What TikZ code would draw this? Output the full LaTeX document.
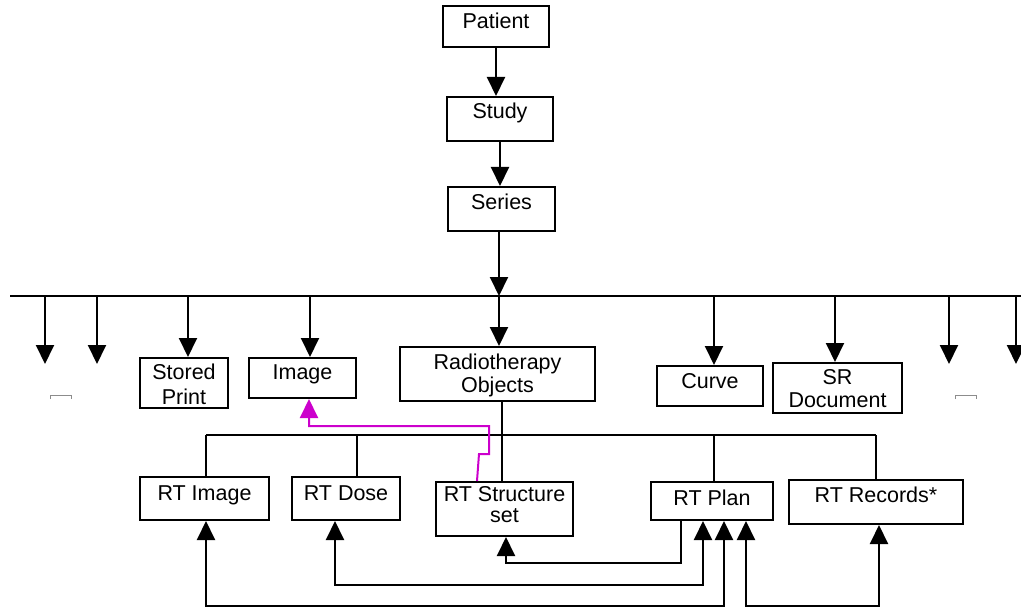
\documentclass[tikz,border=0pt]{standalone}
\usepackage{fontspec}
\setmainfont{Liberation Sans}
\usetikzlibrary{arrows.meta}
\definecolor{linkmag}{RGB}{204,0,204}
\begin{document}
\begin{tikzpicture}[x=1pt,y=-1pt,
  line width=2pt,
  box/.style={draw, line width=2pt, rectangle, inner sep=0pt},
  txt/.style={anchor=north, inner sep=0pt, align=center,
    font=\fontsize{21.5}{23}\selectfont},
  tip/.style={-{Triangle[length=19pt,width=18pt]}},
  tips/.style={{Triangle[length=19pt,width=18pt]}-{Triangle[length=19pt,width=18pt]}},
  mag/.style={draw=linkmag, line width=2pt, -{Triangle[length=19pt,width=18pt,fill=linkmag]}},
  stub/.style={draw=black!45, line width=1pt}
]
\useasboundingbox (0,0) rectangle (1021,607);

% hierarchy at the top
\node[box, minimum width=106, minimum height=41, label={[txt,yshift=-7]north:Patient}] (patient) at (496,26.5) {};
\node[box, minimum width=106, minimum height=44, label={[txt,yshift=-6]north:Study}] (study) at (500,119) {};
\node[box, minimum width=107, minimum height=44, label={[txt,yshift=-7]north:Series}] (series) at (501.5,209) {};

% object boxes below the series bus
\node[box, minimum width=88, minimum height=50, label={[txt,yshift=-6]north:Stored\\[2pt]Print}] (stored) at (184,383) {};
\node[box, minimum width=107, minimum height=40, label={[txt,yshift=-7]north:Image}] (image) at (302.5,378) {};
\node[box, minimum width=195, minimum height=54, label={[txt,yshift=-7]north:Radiotherapy\\Objects}] (rto) at (497.5,374) {};
\node[box, minimum width=106, minimum height=40, label={[txt,yshift=-7]north:Curve}] (curve) at (710,386) {};
\node[box, minimum width=129, minimum height=50, label={[txt,yshift=-6]north:SR\\Document}] (srdoc) at (837.5,388) {};

% radiotherapy object boxes
\node[box, minimum width=129, minimum height=43, label={[txt,yshift=-9]north:RT Image}] (rtimage) at (204.5,498.5) {};
\node[box, minimum width=108, minimum height=43, label={[txt,yshift=-9]north:RT Dose}] (rtdose) at (346,498.5) {};
\node[box, minimum width=137, minimum height=54, label={[txt,yshift=-4]north:RT Structure\\[-2pt]set}] (rtstruct) at (504.5,509) {};
\node[box, minimum width=122, minimum height=38, label={[txt,yshift=-8]north:RT Plan}] (rtplan) at (712,501) {};
\node[box, minimum width=174, minimum height=44, label={[txt,yshift=-7]north:RT Records*}] (rtrec) at (876,502) {};

% series bus and its drops
\coordinate (busL) at (10,296);
\coordinate (busR) at (1021,296);
\draw (busL) -- (busR);
\draw[tip] (patient.south) -- (patient.south |- study.north);
\draw[tip] (study.south) -- (study.south |- series.north);
\coordinate (sertap) at ([xshift=-2.5]series.south);
\draw[tip] (sertap) -- (sertap |- busL);

\coordinate (d1) at (45,364);
\coordinate (d2) at (97,364);
\coordinate (d3) at (949,364);
\coordinate (d4) at (1016,364);
\foreach \d in {d1,d2,d3,d4} \draw[tip] (\d |- busL) -- (\d);

\coordinate (sttop) at ([xshift=4]stored.north);
\coordinate (imtop) at ([xshift=7.5]image.north);
\coordinate (rotop) at ([xshift=1.5]rto.north);
\coordinate (cutop) at ([xshift=4]curve.north);
\coordinate (srtop) at ([xshift=-2.5]srdoc.north);
\foreach \t in {sttop,imtop,rotop,cutop,srtop} \draw[tip] (\t |- busL) -- (\t);

% empty placeholders under the unlabelled drops
\draw[stub] (50,399) -- (50,395) -- (71,395) -- (71,399);
\draw[stub] (955,399) -- (955,395) -- (976,395) -- (976,399);

% radiotherapy bus
\coordinate (rbL) at (206,435);
\coordinate (rbR) at (876,435);
\draw (rbL) -- (rbR);
\coordinate (rimtop) at ([xshift=1.5]rtimage.north);
\coordinate (rdotop) at ([xshift=11]rtdose.north);
\coordinate (rpltop) at ([xshift=2]rtplan.north);
\draw (rimtop |- rbL) -- (rimtop);
\draw (rdotop |- rbL) -- (rdotop);
\draw (rpltop |- rbL) -- (rpltop);
\draw (rbR) -- (rtrec.north);
\coordinate (robot) at ([xshift=4.5]rto.south);
\draw (robot) -- (robot |- rtstruct.north);

% structure set referencing the image
\coordinate (magstart) at ([xshift=-27.5]rtstruct.north);
\coordinate (imbot) at ([xshift=6.5]image.south);
\draw[mag] (magstart) -- ++(2,-27) -- ++(10,0) -- ++(0,-28) -| (imbot);

% references leaving and entering the plan
\coordinate (plout) at ([xshift=-31]rtplan.south);
\coordinate (stin) at ([xshift=1.5]rtstruct.south);
\draw[tip] (plout) -- ++(0,42) -| (stin);

\coordinate (doseb) at ([xshift=-11]rtdose.south);
\coordinate (planA) at ([xshift=-9]rtplan.south);
\draw[tips] (doseb) -- ++(0,64) -| (planA);

\coordinate (imageb) at ([xshift=1.5]rtimage.south);
\coordinate (planB) at ([xshift=12]rtplan.south);
\draw[tips] (imageb) -- ++(0,85) -| (planB);

\coordinate (recb) at ([xshift=3]rtrec.south);
\coordinate (planC) at ([xshift=34]rtplan.south);
\draw[tips] (recb) -- ++(0,81) -| (planC);
\end{tikzpicture}
\end{document}
